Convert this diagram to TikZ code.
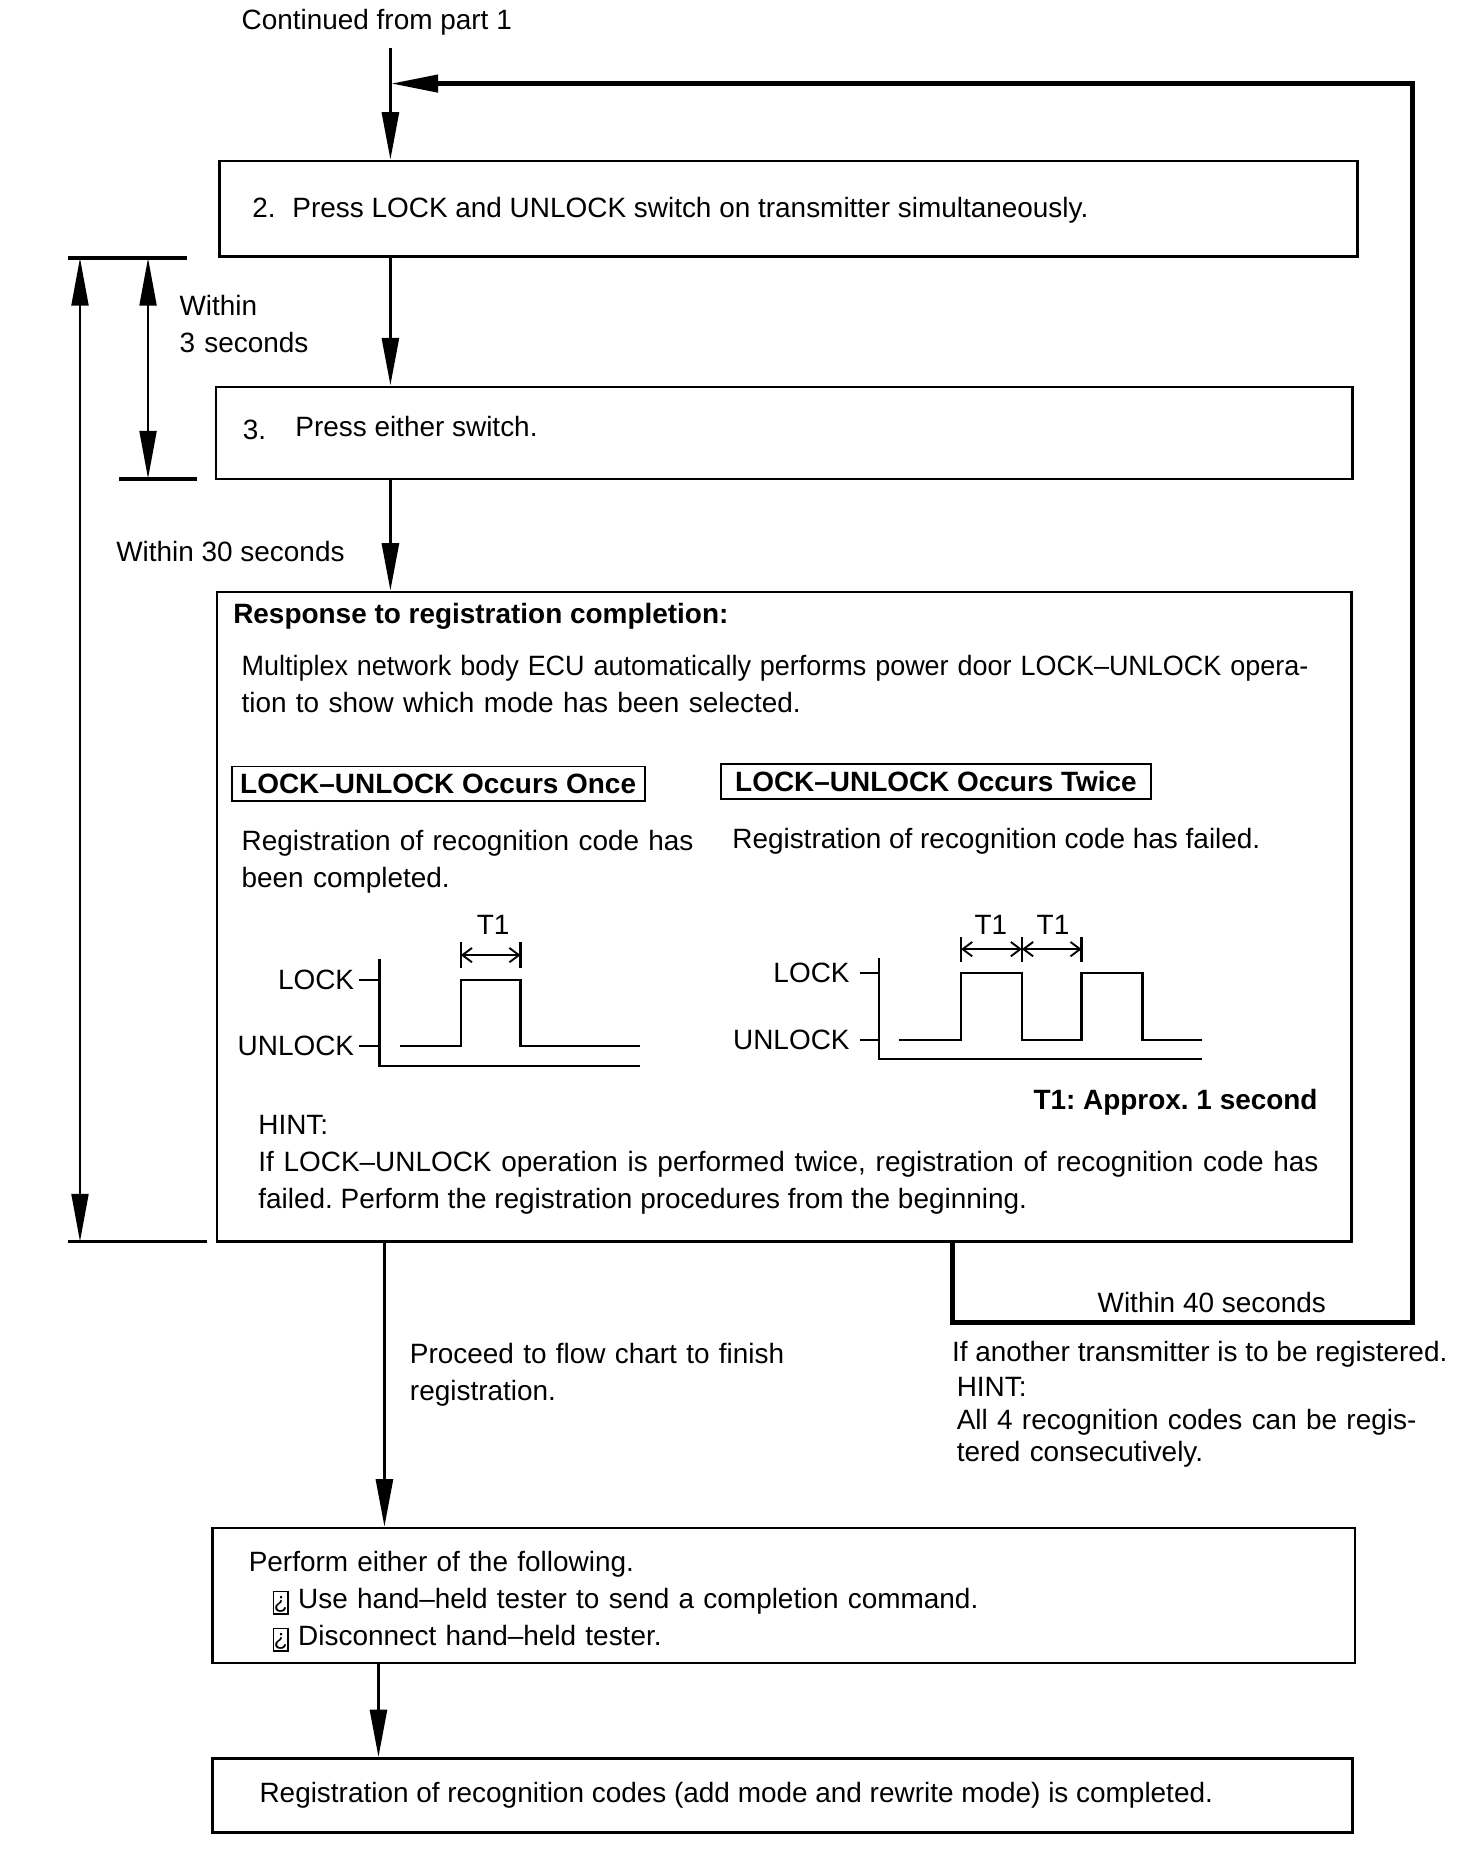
\documentclass[tikz,border=0pt]{standalone}
\usepackage{fontspec}
\setmainfont{Liberation Sans}
\usetikzlibrary{arrows.meta,fit}

\tikzstyle{box}=[draw, line width=1pt, inner sep=0pt]
\tikzstyle{tag}=[draw, line width=0.8pt, inner sep=0pt, minimum height=14.5pt, font=\fontsize{11.7}{15.5}\selectfont\bfseries]
\tikzstyle{txt}=[anchor=base west, inner sep=0pt, align=left]
\tikzstyle{flow}=[line width=1.5pt, -{Triangle[length=20pt,width=7pt]}]
\tikzstyle{back}=[line width=2.2pt, line join=miter, -{Triangle[length=20pt,width=7pt]}]
\tikzstyle{span}=[line width=1.2pt, {Triangle[length=20pt,width=7pt]}-{Triangle[length=20pt,width=7pt]}]
\tikzstyle{bar}=[line width=1.5pt]
\tikzstyle{sig}=[line width=1pt]
\tikzstyle{tdim}=[line width=0.8pt, {Straight Barb[length=4pt,width=6pt]}-{Straight Barb[length=4pt,width=6pt]}]

\newcommand{\invq}{{\setlength{\fboxsep}{0.4pt}\setlength{\fboxrule}{0.6pt}\raisebox{-1.4pt}{\fbox{\rule{0pt}{7.8pt}\makebox[4.8pt]{\fontsize{9.5}{9.5}\selectfont\raisebox{1.2pt}{¿}}}}}}

\begin{document}
\frenchspacing
\begin{tikzpicture}[x=0.5pt,y=-0.5pt, every node/.style={font=\fontsize{11.7}{15.5}\selectfont}]
\fill[white] (0,0) rectangle (1233,1568);

% steps
\node[box, fit={(184,135) (1137,215)}] (s2) {};
\node[box, fit={(181,324) (1133,401)}] (s3) {};
\node[box, fit={(182,496) (1132,1040)}] (s4) {};
\node[box, fit={(178,1280) (1135,1393)}] (s5) {};
\node[box, fit={(178,1473) (1133,1535)}] (s6) {};

\node[txt] (cont) at (202,25) {Continued from part 1};
\node[txt] (t2) at (211,182) {2.\hspace{7pt}Press LOCK and UNLOCK switch on transmitter simultaneously.};
\node[txt] (n3) at (203,368) {3.};
\node[txt] (t3) at (247,366) {Press either switch.};

% response box
\node[txt, font=\fontsize{11.7}{15.5}\selectfont\bfseries] (resp) at (195,522) {Response to registration completion:};
\node[txt, text width=460pt] (multi) at (202,566) {\scalebox{0.965}[1]{Multiplex network body ECU automatically performs power door LOCK--UNLOCK opera-}\\tion to show which mode has been selected.};
\node[tag, minimum width=173pt] (once) at (367,656.5) {LOCK--UNLOCK Occurs Once};
\node[tag, minimum width=180pt] (twice) at (784,654.5) {LOCK--UNLOCK Occurs Twice};
\node[txt, text width=200pt] (ok) at (202,712) {Registration of recognition code has\\been completed.};
\node[txt] (fail) at (613,711) {Registration of recognition code has failed.};

% timing, once
\draw[sig] (318,803) -- (318,893) -- (536,893);
\draw[sig] (301,821) -- (318,821);
\draw[sig] (301,876) -- (318,876);
\node[anchor=east, inner sep=0pt] (lk1) at (297,821) {LOCK};
\node[anchor=east, inner sep=0pt] (ul1) at (297,876) {UNLOCK};
\draw[sig] (335,876) -- (386,876) -- (386,821) -- (436,821) -- (436,876) -- (536,876);
\draw[sig] (386,789) -- (386,811);
\draw[sig] (436,789) -- (436,811);
\draw[tdim] (386,800) -- (436,800);
\node[inner sep=0pt] (ta) at (413,775) {T1};

% timing, twice
\draw[sig] (736,802) -- (736,887) -- (1007,887);
\draw[sig] (720,815) -- (736,815);
\draw[sig] (720,871) -- (736,871);
\node[anchor=east, inner sep=0pt] (lk2) at (712,815) {LOCK};
\node[anchor=east, inner sep=0pt] (ul2) at (712,871) {UNLOCK};
\draw[sig] (753,871) -- (805,871) -- (805,815) -- (856,815) -- (856,871) -- (906,871) -- (906,815) -- (957,815) -- (957,871) -- (1007,871);
\foreach \x in {805,856,906}
  \draw[sig] (\x,785) -- (\x,806);
\draw[tdim] (805,795) -- (856,795);
\draw[tdim] (856,795) -- (906,795);
\node[inner sep=0pt] (tb) at (830,775) {T1};
\node[inner sep=0pt] (tc) at (882,775) {T1};

\node[anchor=base east, inner sep=0pt, font=\fontsize{11.7}{15.5}\selectfont\bfseries] (approx) at (1104,929) {T1: Approx. 1 second};
\node[txt] (hint) at (216,950) {HINT:};
\node[txt, text width=444pt, align=justify] (twicehint) at (216,981) {If LOCK--UNLOCK operation is performed twice, registration of recognition code has\linebreak failed. Perform the registration procedures from the beginning.};

% lower texts
\node[txt, text width=200pt] (proceed) at (343,1142) {Proceed to flow chart to finish\\registration.};
\node[txt] (w40) at (919,1099) {Within 40 seconds};
\node[txt] (another) at (797,1140) {If another transmitter is to be registered.};
\node[txt, text width=200pt, font=\fontsize{11.7}{13.5}\selectfont] (hint4) at (801,1170) {HINT:\\All 4 recognition codes can be regis-\\tered consecutively.};

\node[txt, text width=440pt] (either) at (208,1316) {Perform either of the following.\\\hspace*{10pt}\invq\ Use hand--held tester to send a completion command.\\\hspace*{10pt}\invq\ Disconnect hand--held tester.};
\node[txt] (done) at (217,1510) {Registration of recognition codes (add mode and rewrite mode) is completed.};

% time limits
\node[txt, text width=80pt] (w3) at (150,264) {Within\\3 seconds};
\node[txt] (w30) at (97,470) {Within 30 seconds};
\coordinate (d1) at (67,216);
\coordinate (d2) at (67,1040);
\coordinate (d3) at (124,216);
\coordinate (d4) at (124,401);
\draw[bar] (57,216) -- (157,216);
\draw[bar] (100,401) -- (165,401);
\draw[bar] (57,1040) -- (173,1040);
\draw[span] (d1) -- (d2);
\draw[span] (d3) -- (d4);

% connectors
\coordinate (start) at (327,40);
\coordinate (merge) at (327,70);
\coordinate (c2) at (322,0);
\coordinate (c3) at (317,0);
\coordinate (rx) at (798,0);
\draw[line width=1.5pt] (start) -- (merge);
\draw[flow] (merge) -- (s2.north -| merge);
\draw[flow] (s2.south -| merge) -- (s3.north -| merge);
\draw[flow] (s3.south -| merge) -- (s4.north -| merge);
\draw[flow] (s4.south -| c2) -- (s5.north -| c2);
\draw[flow] (s5.south -| c3) -- (s6.north -| c3);
\draw[back] (s4.south -| rx) -- (798,1108) -- (1183,1108) -- (1183,70) -- (merge);
\end{tikzpicture}
\end{document}
